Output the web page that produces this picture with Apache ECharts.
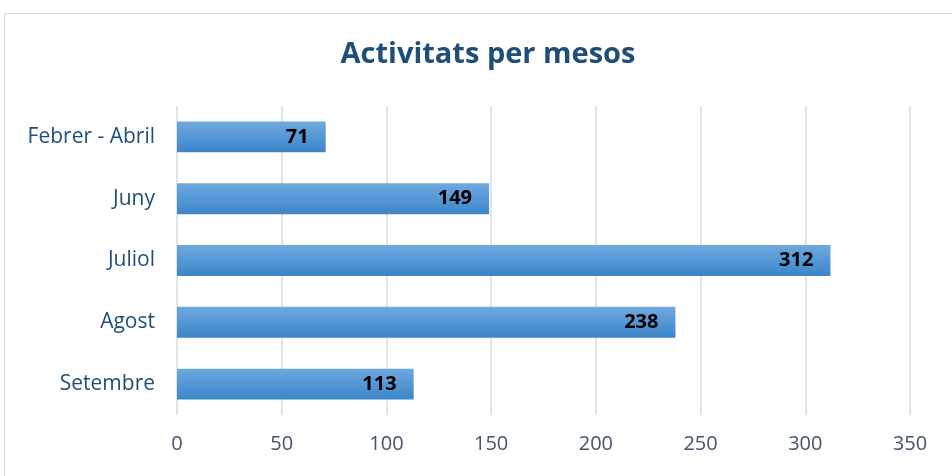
<!DOCTYPE html>
<html>
<head>
<meta charset="utf-8">
<script src="https://cdn.jsdelivr.net/npm/echarts@6/dist/echarts.min.js"></script>
<style>
  html, body { margin: 0; padding: 0; background: #fff; }
  #chart { width: 952px; height: 476px; }
</style>
</head>
<body>
<div id="chart"></div>
<script>
const categories = ['Febrer - Abril', 'Juny', 'Juliol', 'Agost', 'Setembre']
const activitats = [71, 149, 312, 238, 113]
const xTicks = [0, 50, 100, 150, 200, 250, 300, 350]

const chart = echarts.init(document.getElementById('chart'))

const option = {
  animation: false,
  textStyle: { fontFamily: 'Open Sans' },
  graphic: [
    {
      type: 'rect',
      shape: { x: 4.5, y: 13.5, width: 960, height: 480 },
      style: { fill: 'none', stroke: '#d9d9d9', lineWidth: 1 },
      silent: true
    }
  ],
  title: {
    text: 'Activitats per mesos',
    left: 483,
    top: 35,
    textAlign: 'center',
    textStyle: {
      color: '#1f4e79',
      fontSize: 29,
      fontWeight: 'bold',
      fontFamily: 'Open Sans'
    }
  },
  grid: {
    left: 177,
    right: 42,
    top: 106,
    bottom: 61,
    containLabel: false
  },
  xAxis: {
    type: 'value',
    min: xTicks[0],
    max: xTicks[xTicks.length - 1],
    interval: 50,
    axisLine: { show: false },
    axisTick: { show: false },
    axisLabel: {
      color: '#44546a',
      fontSize: 20,
      margin: 19
    },
    splitLine: {
      lineStyle: { color: '#dfe3ea', width: 2 }
    }
  },
  yAxis: {
    type: 'category',
    data: categories,
    inverse: true,
    axisLine: { show: false },
    axisTick: { show: false },
    axisLabel: {
      color: '#1f4e79',
      fontSize: 21,
      margin: 22
    }
  },
  series: [
    {
      name: 'Activitats',
      type: 'bar',
      data: activitats,
      barWidth: '50%',
      itemStyle: {
        color: new echarts.graphic.LinearGradient(0, 0, 0, 1, [
          { offset: 0, color: '#6fa8dc' },
          { offset: 0.5, color: '#5497d6' },
          { offset: 1, color: '#3d85c6' }
        ])
      },
      label: {
        show: true,
        position: 'insideRight',
        distance: 17,
        color: '#000',
        fontSize: 20,
        fontWeight: 'bold',
        fontFamily: 'Open Sans'
      }
    }
  ]
}

chart.setOption(option)
</script>
</body>
</html>
